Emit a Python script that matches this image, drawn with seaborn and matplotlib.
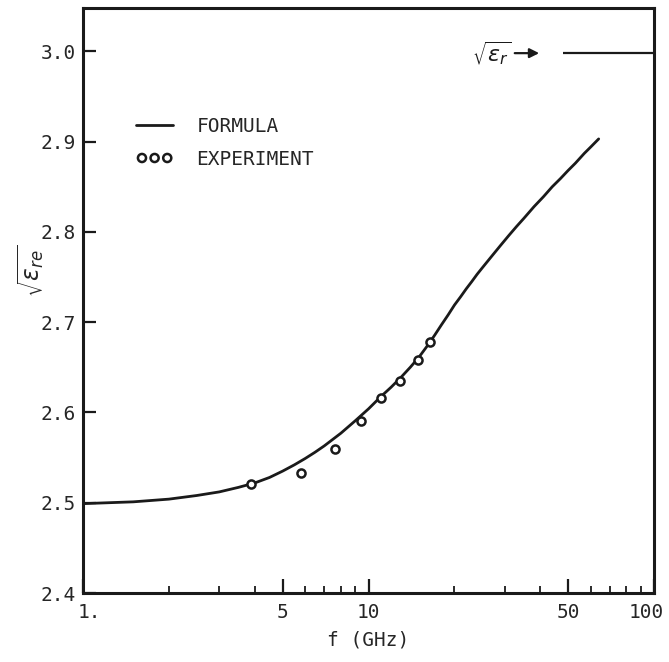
"""Effective permittivity vs frequency: formula curve and measured points"""

import pandas as pd
import matplotlib
matplotlib.use("Agg")
import matplotlib.pyplot as plt
from matplotlib.ticker import FixedLocator, FixedFormatter
from matplotlib.transforms import ScaledTranslation
import seaborn as sns

# Formula curve (f in GHz, sqrt(eps_re))
formula_f = [1.0, 1.5, 2.0, 2.5, 3.0, 3.5, 4.0, 4.5, 5.0, 5.5, 6.0, 6.5, 7.0,
             8.0, 9.0, 10.0, 11.0, 12.0, 13.0, 14.0, 15.0, 16.0, 17.0, 18.0,
             19.0, 20.0, 21.0, 22.0, 23.0, 24.0, 25.0, 27.0, 29.0, 31.0,
             33.0, 35.0, 38.0, 41.0, 44.0, 47.0, 50.0, 53.0, 57.0, 60.0, 64.0]
formula_v = [2.499, 2.501, 2.504, 2.508, 2.512, 2.517, 2.522, 2.528, 2.535,
             2.542, 2.549, 2.556, 2.563, 2.577, 2.591, 2.604, 2.617, 2.628,
             2.639, 2.650, 2.661, 2.673, 2.685, 2.697, 2.708, 2.719, 2.728,
             2.737, 2.745, 2.753, 2.760, 2.773, 2.785, 2.796, 2.806, 2.815,
             2.828, 2.839, 2.850, 2.859, 2.868, 2.876, 2.887, 2.894, 2.903]

# Experiment points
exp_f = [3.88, 5.79, 7.63, 9.41, 11.06, 12.9, 14.9, 16.4]
exp_v = [2.521, 2.533, 2.559, 2.591, 2.616, 2.635, 2.658, 2.678]

# sqrt(eps_r) asymptote
sqrt_er = 2.998
sqrt_er_span = (48, 100)

x_major = [1, 5, 10, 50, 100]
x_major_labels = ["1.", "5", "10", "50", "100"]
x_minor = [2, 3, 4, 6, 7, 8, 9, 20, 30, 40, 60, 70, 80, 90]
y_ticks = [2.4, 2.5, 2.6, 2.7, 2.8, 2.9, 3.0]

df_formula = pd.DataFrame({"f": formula_f, "v": formula_v})
df_exp = pd.DataFrame({"f": exp_f, "v": exp_v})

sns.set_style("white")
plt.rcParams["font.family"] = ["DejaVu Sans Mono", "DejaVu Sans"]
plt.rcParams["mathtext.fontset"] = "dejavusans"

fig = plt.figure(figsize=(6.69, 6.62), dpi=100)
ax = fig.add_axes([0.1241, 0.1042, 0.8535, 0.8837])

sns.lineplot(data=df_formula, x="f", y="v", ax=ax, color="#1a1a1a",
             linewidth=2.0, label="FORMULA")
sns.scatterplot(data=df_exp, x="f", y="v", ax=ax, s=34, marker="o",
                facecolor="white", edgecolor="#1a1a1a", linewidth=1.8,
                zorder=3, label="EXPERIMENT")

ax.set_xscale("log")
ax.set_xlim(1, 100)
ax.set_ylim(2.4, 3.048)

ax.xaxis.set_major_locator(FixedLocator(x_major))
ax.xaxis.set_major_formatter(FixedFormatter(x_major_labels))
ax.xaxis.set_minor_locator(FixedLocator(x_minor))
ax.xaxis.set_minor_formatter(FixedFormatter([""] * len(x_minor)))
ax.set_yticks(y_ticks)
ax.set_yticklabels([f"{t:.1f}" for t in y_ticks])

ax.tick_params(axis="x", which="major", direction="in", length=10, width=1.6,
               labelsize=14, pad=7, bottom=True, color="#1a1a1a")
ax.tick_params(axis="x", which="minor", direction="in", length=5, width=1.3,
               bottom=True, color="#1a1a1a")
ax.tick_params(axis="y", which="major", direction="in", length=9, width=1.6,
               labelsize=14, pad=5, left=True, color="#1a1a1a")
for sp in ax.spines.values():
    sp.set_linewidth(2.2)
    sp.set_color("#1a1a1a")

# nudge end labels like the original ("1." sits right of its tick, "100" inside)
xlabels = ax.get_xticklabels()
xlabels[0].set_transform(xlabels[0].get_transform()
                         + ScaledTranslation(0.06, 0, fig.dpi_scale_trans))
xlabels[-1].set_transform(xlabels[-1].get_transform()
                          + ScaledTranslation(-0.08, 0, fig.dpi_scale_trans))

ax.set_xlabel("f (GHz)", fontsize=14, labelpad=6)
ax.set_ylabel(r"$\sqrt{\epsilon_{re}}$", fontsize=17)
ax.yaxis.set_label_coords(-0.065, 0.55)

# sqrt(eps_r) marker line with arrow
ax.hlines(sqrt_er, *sqrt_er_span, color="#1a1a1a", linewidth=1.6)
ax.annotate("", xy=(40.5, sqrt_er), xytext=(31.8, sqrt_er),
            arrowprops=dict(arrowstyle="-|>", color="#1a1a1a", lw=1.6,
                            mutation_scale=14))
ax.text(31.5, sqrt_er, r"$\sqrt{\epsilon_r}$", fontsize=16, ha="right",
        va="center", color="#1a1a1a")

ax.legend(loc="upper left", bbox_to_anchor=(0.076, 0.83), frameon=False,
          fontsize=14, handlelength=1.9, handletextpad=1.2, scatterpoints=3,
          scatteryoffsets=[0.5], labelspacing=0.7, borderpad=0)

fig.savefig("out.png", dpi=100, facecolor="white")
